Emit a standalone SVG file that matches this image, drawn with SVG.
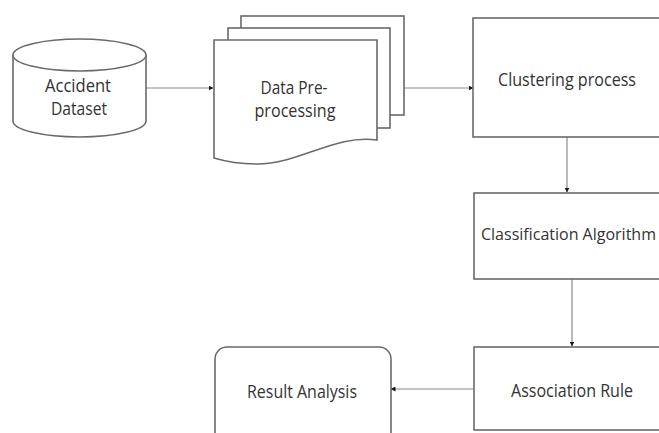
<svg xmlns="http://www.w3.org/2000/svg" width="659" height="433" viewBox="0 0 659 433">
  <defs>
    <marker id="tip" markerWidth="5" markerHeight="5" refX="4.5" refY="2.5" orient="auto" markerUnits="userSpaceOnUse">
      <path d="M0,0 L5,2.5 L0,5 Z" fill="#1a1a1a"/>
    </marker>
  </defs>
  <style>
    .shape { fill: #ffffff; stroke: #6a6a6a; stroke-width: 1.6; }
    .link { fill: none; stroke: #8a8a8a; stroke-width: 1.2; marker-end: url(#tip); }
    .label { font-family: "Open Sans", "Liberation Sans", sans-serif; font-size: 18px; fill: #333333; text-anchor: middle; }
    .label.tight { font-size: 16px; text-anchor: start; }
  </style>
  <rect width="659" height="433" fill="#ffffff"/>

  <!-- connectors -->
  <g id="connectors">
    <line class="link" x1="145" y1="88" x2="213" y2="88"/>
    <line class="link" x1="404" y1="88" x2="473" y2="88"/>
    <line class="link" x1="567" y1="137" x2="567" y2="192"/>
    <line class="link" x1="572" y1="279" x2="572" y2="346"/>
    <line class="link" x1="474" y1="389" x2="391" y2="389"/>
  </g>

  <!-- data source -->
  <g id="accident-dataset">
    <path class="shape" d="M13,55 V121 A66.5,16 0 0 0 146,121 V55"/>
    <ellipse class="shape" cx="79.5" cy="55" rx="66.5" ry="16"/>
    <text class="label" x="78" y="92" textLength="66" lengthAdjust="spacingAndGlyphs">Accident</text>
    <text class="label" x="79" y="115" textLength="56" lengthAdjust="spacingAndGlyphs">Dataset</text>
  </g>

  <!-- stacked documents -->
  <g id="data-preprocessing">
    <rect class="shape" x="241" y="16" width="163" height="99"/>
    <rect class="shape" x="228" y="28" width="162" height="100"/>
    <path class="shape" d="M214,40 H377 V140 C335,134 300,164 257,164 C238,164 224,161 214,158 Z"/>
    <text class="label" x="294" y="94" textLength="67" lengthAdjust="spacingAndGlyphs">Data Pre-</text>
    <text class="label" x="295" y="117" textLength="81" lengthAdjust="spacingAndGlyphs">processing</text>
  </g>

  <g id="clustering-process">
    <rect class="shape" x="473" y="18" width="200" height="119"/>
    <text class="label" x="567" y="86" textLength="138" lengthAdjust="spacingAndGlyphs">Clustering process</text>
  </g>

  <g id="classification-algorithm">
    <rect class="shape" x="474" y="193" width="200" height="86"/>
    <text class="label tight" x="481" y="240">Classification Algorithm</text>
  </g>

  <g id="association-rule">
    <rect class="shape" x="474" y="347" width="200" height="83"/>
    <text class="label" x="572" y="397" textLength="122" lengthAdjust="spacingAndGlyphs">Association Rule</text>
  </g>

  <g id="result-analysis">
    <rect class="shape" x="215" y="347" width="176" height="100" rx="12" ry="12"/>
    <text class="label" x="302" y="398" textLength="110" lengthAdjust="spacingAndGlyphs">Result Analysis</text>
  </g>
</svg>
